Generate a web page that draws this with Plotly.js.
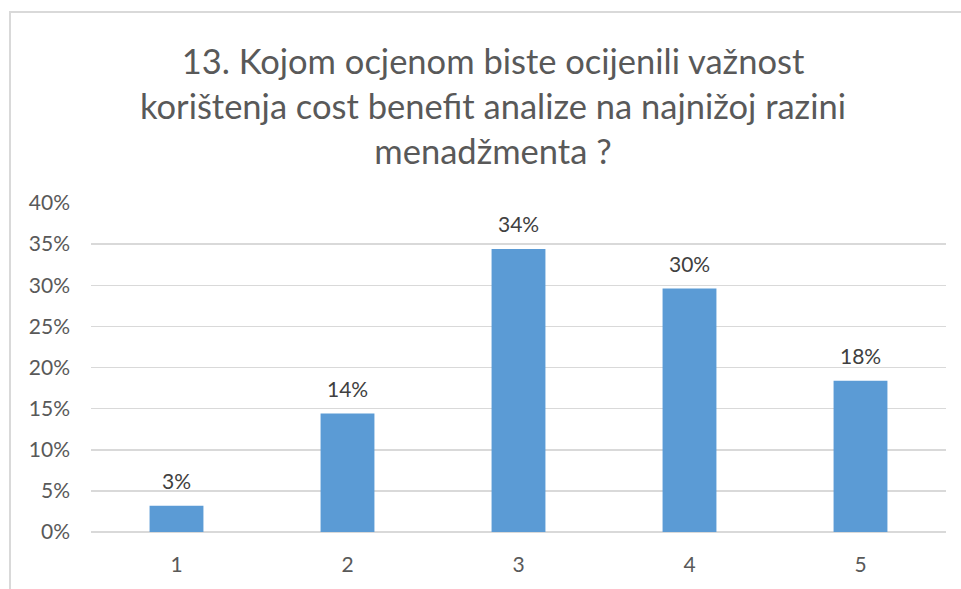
<!DOCTYPE html>
<html>
<head>
<meta charset="utf-8">
<script src="https://cdn.plot.ly/plotly-3.0.1.min.js"></script>
<style>
  html, body { margin: 0; padding: 0; background: #fff; }
  #chart { width: 961px; height: 589px; position: absolute; left: 0; top: 0; }
  #frame { position: absolute; left: 9px; top: 11px; width: 960px; height: 600px;
           border-left: 2px solid #d9d9d9; border-top: 2px solid #d9d9d9; pointer-events: none; }
</style>
</head>
<body>
<div id="chart"></div>
<div id="frame"></div>
<script>
const categories = ['1', '2', '3', '4', '5'];
const values = [3.2, 14.4, 34.4, 29.6, 18.4];
const labels = ['3%', '14%', '34%', '30%', '18%'];
const yTicks = [0, 5, 10, 15, 20, 25, 30, 35, 40];
const yTickLabels = ['0%', '5%', '10%', '15%', '20%', '25%', '30%', '35%', '40%'];
const titleText = '13. Kojom ocjenom biste ocijenili važnost<br>korištenja cost benefit analize na najnižoj razini<br>menadžmenta ?';

const FONT = 'Lato, "Open Sans", sans-serif';

const trace = {
  type: 'bar',
  x: categories,
  y: values,
  marker: { color: '#5b9bd5' },
  width: 0.315,
  hoverinfo: 'none'
};

// annotations placed on the category axis by category index
const annotations = categories.map((c, i) => ({
  x: i, y: values[i], text: labels[i], showarrow: false,
  xref: 'x', yref: 'y', yanchor: 'bottom', yshift: 11,
  font: { family: FONT, size: 21, color: '#404040' }
}));

const layout = {
  width: 961, height: 589,
  margin: { l: 91, r: 15, t: 203, b: 57 },
  paper_bgcolor: '#ffffff', plot_bgcolor: '#ffffff',
  showlegend: false,
  title: {
    text: titleText,
    font: { family: FONT, size: 34.5, color: '#595959' },
    x: 0.513, xref: 'container', xanchor: 'center',
    y: 0.874, yref: 'container', yanchor: 'middle'
  },
  xaxis: {
    type: 'category',
    range: [-0.5, categories.length - 0.5],
    showgrid: false, zeroline: false, showline: false,
    ticks: '', ticklabelstandoff: 18,
    tickfont: { family: FONT, size: 21, color: '#595959' }
  },
  yaxis: {
    range: [0, 40], fixedrange: true,
    tickvals: yTicks, ticktext: yTickLabels,
    showgrid: true, gridcolor: '#d9d9d9', gridwidth: 1.5,
    zeroline: true, zerolinecolor: '#d9d9d9', zerolinewidth: 1.5,
    showline: false, ticks: '', ticklabelstandoff: 20,
    tickfont: { family: FONT, size: 21, color: '#595959' }
  },
  annotations: annotations
};

Plotly.newPlot('chart', [trace], layout, { displayModeBar: false, staticPlot: true });
</script>
</body>
</html>
